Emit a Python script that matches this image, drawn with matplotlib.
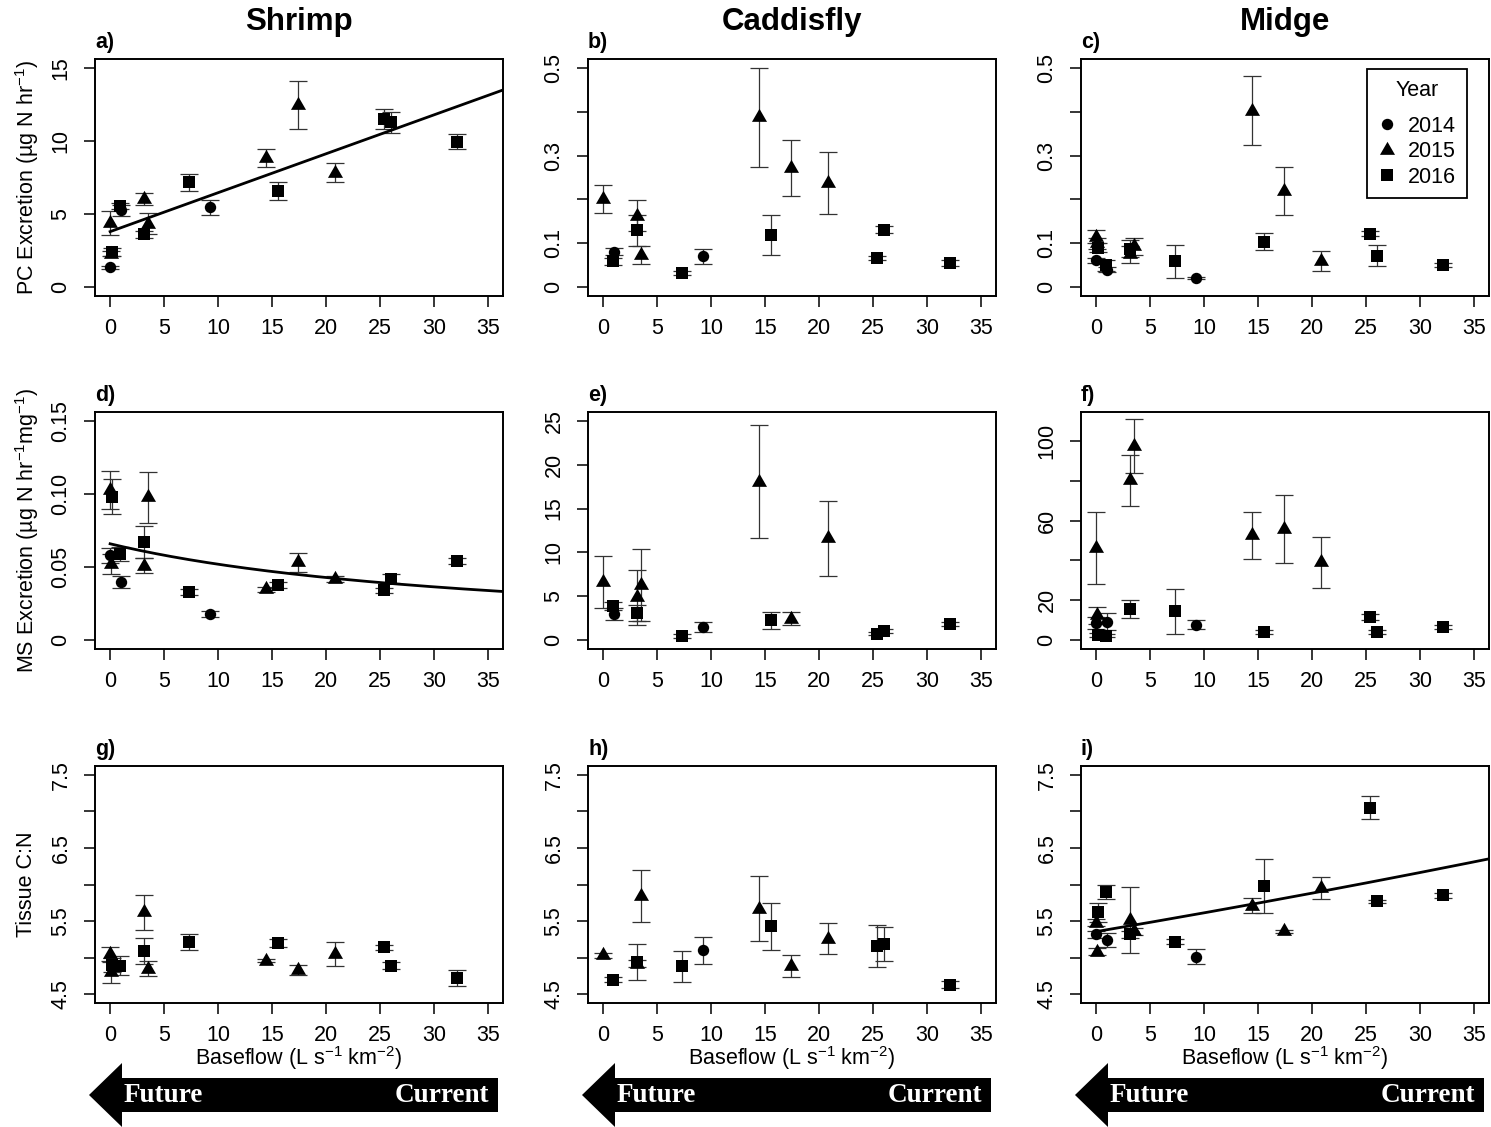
import numpy as np
import matplotlib
matplotlib.use("Agg")
import matplotlib.pyplot as plt
from matplotlib.lines import Line2D
from matplotlib.patches import Polygon

plt.rcParams['font.family'] = ['Liberation Sans', 'DejaVu Sans']
plt.rcParams['mathtext.fontset'] = 'custom'
plt.rcParams['mathtext.rm'] = 'Liberation Sans'
plt.rcParams['mathtext.it'] = 'Liberation Sans:italic'
plt.rcParams['mathtext.bf'] = 'Liberation Sans:bold'

nan = np.nan

# baseflow (L s-1 km-2) of the sampled streams, per year
x_2014 = [0.0, 1.05, 9.3]
x_2015 = [0.0, 0.05, 3.1, 3.55, 14.4, 17.45, 20.85]
x_2016 = [0.2, 0.95, 3.1, 7.3, 15.6, 25.4, 26.05, 32.1]
years = ['2014', '2015', '2016']

# mean and SE, one list per year (2014, 2015, 2016)
shrimp_pc_y = [[1.37, 5.25, 5.47],
               [4.39, 2.3, 6.06, 4.35, 8.84, 12.45, 7.82],
               [2.4, 5.58, 3.62, 7.16, 6.59, 11.49, 11.28, 9.96]]
shrimp_pc_se = [[0.1, 0.35, 0.52],
                [0.85, 0.2, 0.41, 0.7, 0.59, 1.62, 0.66],
                [0.25, 0.2, 0.25, 0.6, 0.6, 0.67, 0.73, 0.54]]

caddis_pc_y = [[nan, 0.081, 0.071],
               [0.201, nan, 0.163, 0.073, 0.387, 0.272, 0.237],
               [nan, 0.059, 0.13, 0.032, 0.119, 0.066, 0.131, 0.055]]
caddis_pc_se = [[0, 0.008, 0.017],
                [0.033, 0, 0.035, 0.02, 0.112, 0.064, 0.071],
                [0, 0.008, 0.035, 0.004, 0.046, 0.005, 0.008, 0.007]]

midge_pc_y = [[0.061, 0.04, 0.021],
              [0.115, 0.10, 0.075, 0.093, 0.402, 0.22, 0.06],
              [0.09, 0.05, 0.088, 0.059, 0.104, 0.122, 0.072, 0.051]]
midge_pc_se = [[0.005, 0.005, 0.003],
               [0.015, 0.013, 0.02, 0.02, 0.079, 0.055, 0.022],
               [0.01, 0.012, 0.02, 0.038, 0.019, 0.006, 0.024, 0.005]]

shrimp_ms_y = [[0.058, 0.040, 0.018],
               [0.103, 0.052, 0.051, 0.0977, 0.0347, 0.0532, 0.042],
               [0.098, 0.059, 0.0672, 0.033, 0.0376, 0.034, 0.042, 0.054]]
shrimp_ms_se = [[0.005, 0.004, 0.002],
                [0.013, 0.007, 0.005, 0.0174, 0.002, 0.0065, 0.002],
                [0.012, 0.005, 0.011, 0.002, 0.002, 0.002, 0.003, 0.002]]

caddis_ms_y = [[nan, 3.0, 1.52],
               [6.67, nan, 4.88, 6.29, 18.08, 2.45, 11.6],
               [nan, 3.9, 3.1, 0.46, 2.26, 0.76, 1.03, 1.86]]
caddis_ms_se = [[0, 0.7, 0.57],
                [2.98, 0, 3.1, 4.05, 6.42, 0.74, 4.24],
                [0, 0.4, 0.9, 0.2, 0.93, 0.2, 0.2, 0.2]]

midge_ms_y = [[8.7, 9.2, 7.7],
              [46.1, 12.4, 80.1, 97.5, 52.5, 55.6, 39.0],
              [2.8, 2.3, 15.5, 14.6, 4.2, 11.7, 4.2, 6.5]]
midge_ms_se = [[3.0, 4.3, 2.3],
               [18.1, 4.2, 12.9, 13.5, 11.7, 17.1, 12.8],
               [1.0, 0.8, 4.6, 11.3, 1.0, 1.5, 1.0, 1.0]]

shrimp_cn_y = [[nan, nan, nan],
               [5.05, 4.80, 5.62, 4.85, 4.96, 4.83, 5.05],
               [4.90, 4.89, 5.09, 5.21, 5.20, 5.14, 4.89, 4.72]]
shrimp_cn_se = [[0, 0, 0],
                [0.1, 0.14, 0.24, 0.1, 0.02, 0.07, 0.17],
                [0.1, 0.13, 0.18, 0.11, 0.05, 0.03, 0.05, 0.11]]

caddis_cn_y = [[nan, nan, 5.10],
               [5.03, nan, 4.92, 5.84, 5.67, 4.88, 5.26],
               [nan, 4.70, 4.94, 4.88, 5.43, 5.157, 5.19, 4.63]]
caddis_cn_se = [[0, 0, 0.18],
                [0.03, 0, 0.05, 0.356, 0.44, 0.15, 0.21],
                [0, 0.03, 0.244, 0.21, 0.32, 0.29, 0.23, 0.05]]

midge_cn_y = [[5.32, 5.24, 5.015],
              [5.48, 5.08, 5.52, 5.36, 5.71, 5.36, 5.95],
              [5.62, 5.90, 5.32, 5.22, 5.98, 7.05, 5.77, 5.85]]
midge_cn_se = [[0.05, 0.1, 0.1],
               [0.05, 0.05, 0.45, 0.05, 0.1, 0.02, 0.15],
               [0.13, 0.1, 0.05, 0.03, 0.37, 0.16, 0.02, 0.03]]

# fitted models for the significant panels
a_int, a_slope = 3.8, 0.266          # shrimp PC: linear
d_a, d_b = 15.17, 0.408              # shrimp MS: 1/(a + b x)
i_a, i_k = 5.356, 0.00468            # midge C:N: a exp(k x)

taxa = ['Shrimp', 'Caddisfly', 'Midge']
letters = ['a)', 'b)', 'c)', 'd)', 'e)', 'f)', 'g)', 'h)', 'i)']
panel_y = [shrimp_pc_y, caddis_pc_y, midge_pc_y,
           shrimp_ms_y, caddis_ms_y, midge_ms_y,
           shrimp_cn_y, caddis_cn_y, midge_cn_y]
panel_se = [shrimp_pc_se, caddis_pc_se, midge_pc_se,
            shrimp_ms_se, caddis_ms_se, midge_ms_se,
            shrimp_cn_se, caddis_cn_se, midge_cn_se]

# y axis per panel: limits, ticks, shown labels
yticks = [[0, 5, 10, 15], np.arange(0, 0.51, 0.1), np.arange(0, 0.51, 0.1),
          [0, 0.05, 0.10, 0.15], [0, 5, 10, 15, 20, 25], np.arange(0, 101, 20),
          np.arange(4.5, 7.51, 0.5), np.arange(4.5, 7.51, 0.5), np.arange(4.5, 7.51, 0.5)]
ylabs = [['0', '5', '10', '15'],
         ['0', '0.1', '', '0.3', '', '0.5'],
         ['0', '0.1', '', '0.3', '', '0.5'],
         ['0', '0.05', '0.10', '0.15'],
         ['0', '5', '10', '15', '20', '25'],
         ['0', '20', '', '60', '', '100'],
         ['4.5', '', '5.5', '', '6.5', '', '7.5'],
         ['4.5', '', '5.5', '', '6.5', '', '7.5'],
         ['4.5', '', '5.5', '', '6.5', '', '7.5']]
yranges = [(0, 15), (0, 0.5), (0, 0.5), (0, 0.15), (0, 25), (0, 110),
           (4.5, 7.5), (4.5, 7.5), (4.5, 7.5)]
row_labels = ['PC Excretion (µg N hr$^{-1}$)',
              'MS Excretion (µg N hr$^{-1}$mg$^{-1}$)',
              'Tissue C:N']

W, H = 1491, 1127
fig = plt.figure(figsize=(W / 100, H / 100), dpi=100)

col_left = [95, 588, 1081]
row_top = [59, 412, 766]
aw, ah = 408, 237

# R-style filled triangle (pch 17), centred on its centroid
tri = [(0, 1.555), (1.347, -0.778), (-1.347, -0.778)]
markers = [dict(marker='o', ms=8.2), dict(marker=tri, ms=12.5), dict(marker='s', ms=9.2)]
xs_year = [x_2014, x_2015, x_2016]

axes = []
for k in range(9):
    r, c = divmod(k, 3)
    left = col_left[c] / W
    bottom = 1 - (row_top[r] + ah) / H
    ax = fig.add_axes([left, bottom, aw / W, ah / H])
    axes.append(ax)

    for j in range(3):
        ax.errorbar(xs_year[j], panel_y[k][j], yerr=panel_se[k][j], fmt='none',
                    ecolor='#333333', elinewidth=0.9, capsize=6.3, capthick=0.9, zorder=2)
        ax.plot(xs_year[j], panel_y[k][j], ls='none', color='black', mec='black',
                mew=0, zorder=3, **markers[j])

    lo, hi = yranges[k]
    pad = 0.04 * (hi - lo)
    ax.set_ylim(lo - pad, hi + pad)
    ax.set_xlim(-1.4, 36.4)
    ax.set_xticks(np.arange(0, 36, 5))
    ax.set_yticks(yticks[k])
    ax.set_yticklabels(ylabs[k], rotation=90, va='center')
    ax.tick_params(axis='both', direction='out', length=8, width=1.1,
                   labelsize=15.5, pad=8)
    ax.tick_params(axis='y', pad=9)
    for s in ax.spines.values():
        s.set_linewidth(1.4)

    ax.text(0, 1.025, letters[k], transform=ax.transAxes, ha='left', va='bottom',
            fontsize=15.5, fontweight='bold')

xfit = np.linspace(0, 36.4, 200)
axes[0].plot(xfit, a_int + a_slope * xfit, color='black', lw=2, zorder=4)
axes[3].plot(xfit, 1 / (d_a + d_b * xfit), color='black', lw=2, zorder=4)
axes[8].plot(xfit, i_a * np.exp(i_k * xfit), color='black', lw=2, zorder=4)

# legend in the midge PC panel
handles = [Line2D([], [], ls='none', color='black', mew=0, **markers[j]) for j in range(3)]
leg = axes[2].legend(handles, years, title='Year', loc='upper right',
                     bbox_to_anchor=(0.946, 0.958), borderaxespad=0,
                     fontsize=15.5, title_fontsize=15.5,
                     frameon=True, fancybox=False, edgecolor='black', framealpha=1,
                     handlelength=0.8, handletextpad=0.6, labelspacing=0.2,
                     borderpad=0.5)
leg.get_frame().set_linewidth(1.3)
leg._legend_box.sep = 11   # extra room under the title

# column titles
for c in range(3):
    cx = (col_left[c] + aw / 2) / W
    fig.text(cx, 1 - 22 / H, taxa[c], ha='center', va='center',
             fontsize=22.5, fontweight='bold')

# row labels
for r in range(3):
    cy = 1 - (row_top[r] + ah / 2) / H
    fig.text(27 / W, cy, row_labels[r], rotation=90, ha='center', va='center',
             fontsize=15.5)

# x labels and Future/Current arrows under the bottom row
for c in range(3):
    l = col_left[c]
    rgt = l + aw
    cx = (l + aw / 2) / W
    fig.text(cx, 1 - 1058 / H, 'Baseflow (L s$^{-1}$ km$^{-2}$)', ha='center',
             va='center', fontsize=15.5)

    tip = l - 6
    neck = tip + 33
    end = rgt - 5
    pts_px = [(tip, 1095), (neck, 1063), (neck, 1078), (end, 1078),
              (end, 1112), (neck, 1112), (neck, 1127)]
    pts = [(px / W, 1 - py / H) for px, py in pts_px]
    fig.add_artist(Polygon(pts, closed=True, facecolor='black', edgecolor='none',
                           transform=fig.transFigure))
    fig.text((neck + 2) / W, 1 - 1095 / H, 'Future', color='white', ha='left',
             va='center', fontsize=19.5, fontweight='bold', family='Liberation Serif')
    fig.text((end - 9) / W, 1 - 1095 / H, 'Current', color='white', ha='right',
             va='center', fontsize=19.5, fontweight='bold', family='Liberation Serif')

fig.savefig('out.png', dpi=100)
